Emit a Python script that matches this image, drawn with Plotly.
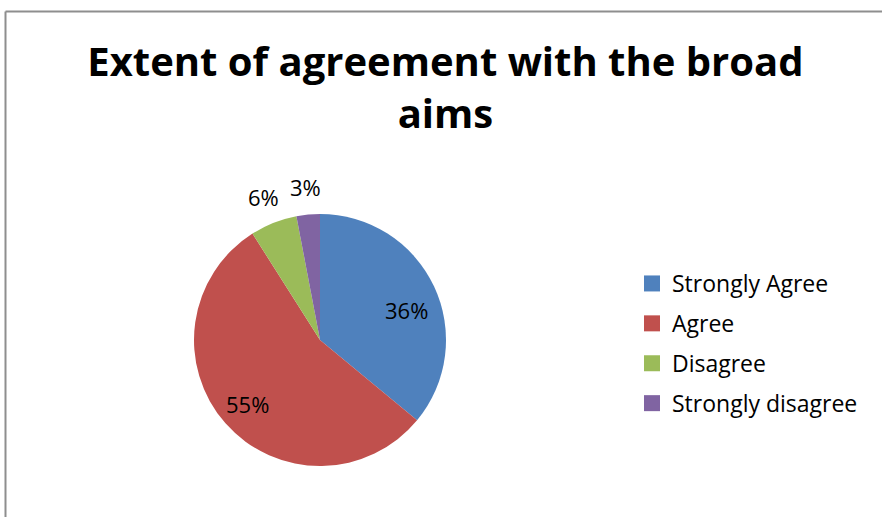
import math
import plotly.graph_objects as go

categories = ["Strongly Agree", "Agree", "Disagree", "Strongly disagree"]
values = [36, 55, 6, 3]
colors = ["#4F81BD", "#C0504D", "#9BBB59", "#8064A2"]
label_radius = [0.73, 0.77, 1.22, 1.22]      # label distance, relative to pie radius
label_angle_shift = [6, 0, 0, 0]             # degrees, small nudges like the original
title_text = "Extent of agreement with the broad<br>aims"

W, H = 882, 517
FONT = "Open Sans"

# pie geometry (pixels)
CX, CY, R = 320, 340, 126

fig = go.Figure()

fig.add_trace(go.Pie(
    labels=categories,
    values=values,
    sort=False,
    direction="clockwise",
    rotation=0,
    marker=dict(colors=colors, line=dict(width=0)),
    textinfo="none",
    showlegend=False,
    domain=dict(x=[(CX - R) / W, (CX + R) / W], y=[(H - CY - R) / H, (H - CY + R) / H]),
    hoverinfo="label+percent",
))

# percent labels placed along each slice bisector
total = sum(values)
annotations = []
cum = 0.0
for v, rf, sh in zip(values, label_radius, label_angle_shift):
    mid = (cum + v / 2) / total * 2 * math.pi + math.radians(sh)
    cum += v
    px = CX + rf * R * math.sin(mid)
    py = CY - rf * R * math.cos(mid)
    annotations.append(dict(
        x=px / W, y=1 - py / H, xref="paper", yref="paper",
        text=f"{round(100 * v / total)}%", showarrow=False,
        xanchor="center", yanchor="middle",
        font=dict(family=FONT, size=22, color="#000000"),
    ))

# legend entries (one per category) for spacing like the original
for cat, col in zip(categories, colors):
    fig.add_trace(go.Scatter(
        x=[None], y=[None], mode="markers", name=cat,
        legendgroup=cat,
        marker=dict(symbol="square", size=16, color=col),
        showlegend=True, hoverinfo="skip",
    ))

fig.update_layout(
    width=W, height=H,
    margin=dict(l=0, r=0, t=0, b=0),
    paper_bgcolor="white", plot_bgcolor="white",
    font=dict(family=FONT, color="#000000"),
    title=dict(
        text=title_text,
        x=0.505, xanchor="center",
        y=1 - 76 / H, yanchor="top",
        font=dict(family=FONT, size=40, color="#000000", weight="bold"),
    ),
    xaxis=dict(visible=False),
    yaxis=dict(visible=False),
    legend=dict(
        x=632 / W, xanchor="left",
        y=1 - 262 / H, yanchor="top",
        font=dict(family=FONT, size=23, color="#000000"),
        tracegroupgap=7,
        bgcolor="rgba(0,0,0,0)",
        itemclick=False, itemdoubleclick=False,
    ),
    annotations=annotations,
    shapes=[
        dict(type="line", xref="paper", yref="paper",
             x0=5.5 / W, x1=1.0, y0=1 - 11.5 / H, y1=1 - 11.5 / H,
             line=dict(color="#8E8E8E", width=2)),
        dict(type="line", xref="paper", yref="paper",
             x0=5.5 / W, x1=5.5 / W, y0=1 - 11.5 / H, y1=0,
             line=dict(color="#8E8E8E", width=2)),
    ],
)

fig.write_html("out.html")
